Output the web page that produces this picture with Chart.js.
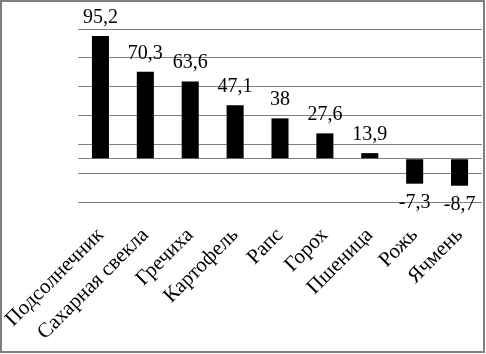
<!DOCTYPE html>
<html>
<head>
<meta charset="utf-8">
<script src="https://cdn.jsdelivr.net/npm/chart.js@4.4.1/dist/chart.umd.min.js"></script>
<style>
  html, body { margin: 0; padding: 0; background: #fff; }
  #wrap { position: relative; width: 486px; height: 354px; }
  #frame { position: absolute; left: 0; top: 0; width: 485px; height: 353px;
           box-sizing: border-box; border: 2px solid #7f7f7f; pointer-events: none; }
</style>
</head>
<body>
<div id="wrap">
  <canvas id="chart" width="486" height="354"></canvas>
  <div id="frame"></div>
</div>
<script>
// культуры и изменение, %
var CROPS = ['Подсолнечник', 'Сахарная свекла', 'Гречиха', 'Картофель', 'Рапс', 'Горох', 'Пшеница', 'Рожь', 'Ячмень'];
var VALUES = [95.2, 70.3, 63.6, 47.1, 38, 27.6, 13.9, -7.3, -8.7];
var AXIS_CROSS = 10;   // горизонтальная ось пересекает вертикальную на 10
var Y_MIN = -20, Y_MAX = 100, Y_STEP = 20;

var FONT = '"Liberation Serif", "Times New Roman", serif';

function fmtComma(v) { return String(v).replace('.', ','); }

// подписи значений над/под столбцами
var valueLabels = {
  id: 'valueLabels',
  afterDatasetsDraw: function (chart) {
    var ctx = chart.ctx;
    var meta = chart.getDatasetMeta(0);
    ctx.save();
    ctx.fillStyle = '#000';
    ctx.font = '20px ' + FONT;
    ctx.textAlign = 'center';
    ctx.textBaseline = 'alphabetic';
    meta.data.forEach(function (bar, i) {
      var v = VALUES[i];
      var y = v >= 0 ? Math.min(bar.y, bar.base) - 13 : Math.max(bar.y, bar.base) + 24;
      ctx.fillText(fmtComma(v), bar.x, y);
    });
    ctx.restore();
  }
};

new Chart(document.getElementById('chart'), {
  type: 'bar',
  data: {
    labels: CROPS,
    datasets: [{
      data: VALUES,
      base: AXIS_CROSS,
      backgroundColor: '#000',
      borderWidth: 0,
      barPercentage: 0.38,
      categoryPercentage: 1
    }]
  },
  options: {
    responsive: false,
    animation: false,
    layout: { padding: { top: 29, right: 4, left: 0, bottom: 0 } },
    plugins: { legend: { display: false }, tooltip: { enabled: false } },
    scales: {
      x: {
        grid: { display: false },
        border: { display: false },
        ticks: {
          color: '#000',
          font: { family: FONT, size: 21 },
          minRotation: 45, maxRotation: 45,
          padding: 13,
          autoSkip: false
        },
        afterFit: function (s) {
          s.height = 152;
          s.paddingLeft = 0;
          s.paddingRight = 0;
        }
      },
      y: {
        min: Y_MIN, max: Y_MAX,
        border: { display: false },
        grid: { color: '#808080', lineWidth: 1, drawTicks: false },
        ticks: { display: false, stepSize: Y_STEP },
        afterBuildTicks: function (s) {
          s.ticks.push({ value: AXIS_CROSS });
        },
        afterFit: function (s) { s.width = 78; }
      }
    }
  },
  plugins: [valueLabels]
});
</script>
</body>
</html>
